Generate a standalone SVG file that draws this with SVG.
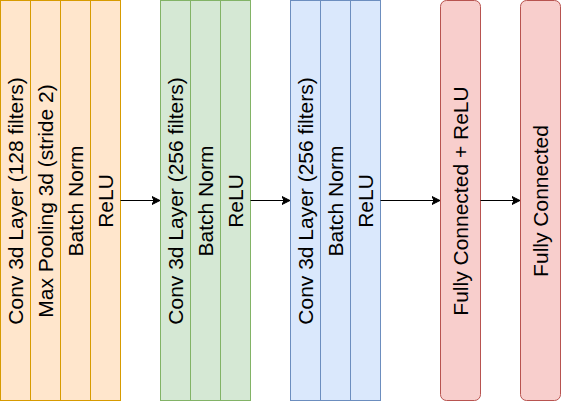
<svg xmlns="http://www.w3.org/2000/svg" width="561" height="401" viewBox="0 0 561 401">
  <style>
    .lbl { font-family: "Liberation Sans", Arial, Helvetica, sans-serif; font-size: 21px; fill: #000; text-anchor: middle; }
    .orange { fill: #ffe6cc; stroke: #d79b00; stroke-width: 1; }
    .green { fill: #d5e8d4; stroke: #82b366; stroke-width: 1; }
    .blue { fill: #dae8fc; stroke: #6c8ebf; stroke-width: 1; }
    .red { fill: #f8cecc; stroke: #b85450; stroke-width: 1; }
    .edge { fill: none; stroke: #000; stroke-width: 1; }
  </style>
  <defs>
    <marker id="arrow" markerUnits="userSpaceOnUse" markerWidth="10" markerHeight="10" viewBox="0 0 10 10" refX="8" refY="5" orient="auto">
      <path d="M8,5 L0,1 L2,5 L0,9 Z" fill="#000" stroke="#000" stroke-width="1"/>
    </marker>
  </defs>

  <!-- Block 1: conv / pool / norm / activation -->
  <g id="block1">
    <rect class="orange" x="0.5" y="0.5" width="30" height="400"/>
    <rect class="orange" x="30.5" y="0.5" width="30" height="400"/>
    <rect class="orange" x="60.5" y="0.5" width="30" height="400"/>
    <rect class="orange" x="90.5" y="0.5" width="30" height="400"/>
    <text class="lbl" transform="translate(15.5,201) rotate(-90)" y="7.5">Conv 3d Layer (128 filters)</text>
    <text class="lbl" transform="translate(45.5,201) rotate(-90)" y="7.5">Max Pooling 3d (stride 2)</text>
    <text class="lbl" transform="translate(75.5,201) rotate(-90)" y="7.5">Batch Norm</text>
    <text class="lbl" transform="translate(105.5,201) rotate(-90)" y="7.5">ReLU</text>
  </g>

  <!-- Block 2 -->
  <g id="block2">
    <rect class="green" x="160.5" y="0.5" width="30" height="400"/>
    <rect class="green" x="190.5" y="0.5" width="30" height="400"/>
    <rect class="green" x="220.5" y="0.5" width="30" height="400"/>
    <text class="lbl" transform="translate(175.5,201) rotate(-90)" y="7.5">Conv 3d Layer (256 filters)</text>
    <text class="lbl" transform="translate(205.5,201) rotate(-90)" y="7.5">Batch Norm</text>
    <text class="lbl" transform="translate(235.5,201) rotate(-90)" y="7.5">ReLU</text>
  </g>

  <!-- Block 3 -->
  <g id="block3">
    <rect class="blue" x="290.5" y="0.5" width="30" height="400"/>
    <rect class="blue" x="320.5" y="0.5" width="30" height="400"/>
    <rect class="blue" x="350.5" y="0.5" width="30" height="400"/>
    <text class="lbl" transform="translate(305.5,201) rotate(-90)" y="7.5">Conv 3d Layer (256 filters)</text>
    <text class="lbl" transform="translate(335.5,201) rotate(-90)" y="7.5">Batch Norm</text>
    <text class="lbl" transform="translate(365.5,201) rotate(-90)" y="7.5">ReLU</text>
  </g>

  <!-- Dense layers -->
  <g id="fc1">
    <rect class="red" x="440.5" y="0.5" width="40" height="400" rx="6" ry="6"/>
    <text class="lbl" transform="translate(460.5,201) rotate(-90)" y="7.5">Fully Connected + ReLU</text>
  </g>
  <g id="fc2">
    <rect class="red" x="520.5" y="0.5" width="40" height="400" rx="6" ry="6"/>
    <text class="lbl" transform="translate(540.5,201) rotate(-90)" y="7.5">Fully Connected</text>
  </g>

  <!-- Connectors -->
  <g id="edges">
    <line class="edge" x1="120.5" y1="200.5" x2="160" y2="200.5" marker-end="url(#arrow)"/>
    <line class="edge" x1="250.5" y1="200.5" x2="290" y2="200.5" marker-end="url(#arrow)"/>
    <line class="edge" x1="380.5" y1="200.5" x2="440" y2="200.5" marker-end="url(#arrow)"/>
    <line class="edge" x1="480.5" y1="200.5" x2="520" y2="200.5" marker-end="url(#arrow)"/>
  </g>
</svg>
